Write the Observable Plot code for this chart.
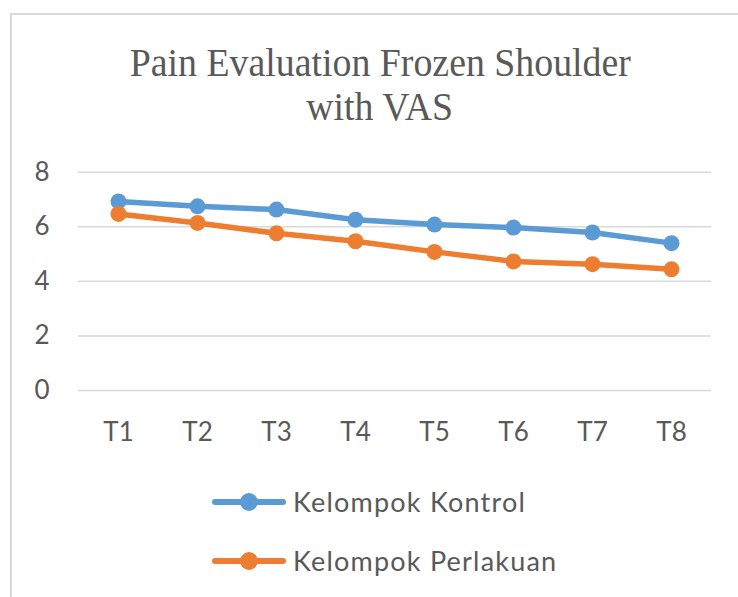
<!DOCTYPE html>
<html>
<head>
<meta charset="utf-8">
<script src="https://cdn.jsdelivr.net/npm/d3@7"></script>
<script src="https://cdn.jsdelivr.net/npm/@observablehq/plot@0.6"></script>
<style>
  html, body { margin: 0; padding: 0; background: #fff; }
  #wrap { position: relative; width: 738px; height: 597px; overflow: hidden; background: #fff; }
  #frame { position: absolute; left: 10px; top: 13px; width: 740px; height: 600px;
           border-top: 2px solid #d9d9d9; border-left: 2px solid #d9d9d9; }
  #title { position: absolute; left: 0; top: 41px; width: 760px; text-align: center;
           font-family: "Liberation Serif", "DejaVu Serif", serif; font-size: 39px;
           line-height: 44px; color: #595959; }
  #title div { display: inline-block; transform: scaleX(0.97); }
  #chart { position: absolute; left: 0; top: 140px; }
  #legend { position: absolute; left: 212px; top: 472px; }
  .row { display: flex; align-items: center; height: 59px; }
  .row span { font-family: Lato, "Open Sans", sans-serif; font-size: 27px; color: #595959;
              margin-left: 7px; letter-spacing: 1.2px; }
</style>
</head>
<body>
<div id="wrap">
  <div id="frame"></div>
  <div id="title"><div>Pain Evaluation Frozen Shoulder</div><br><div>with VAS</div></div>
  <div id="chart"></div>
  <div id="legend"></div>
</div>
<script>
const categories = ["T1", "T2", "T3", "T4", "T5", "T6", "T7", "T8"];
const kontrol = [6.93, 6.75, 6.63, 6.26, 6.08, 5.97, 5.79, 5.40];
const perlakuan = [6.47, 6.14, 5.76, 5.47, 5.08, 4.73, 4.63, 4.44];
const seriesNames = ["Kelompok Kontrol", "Kelompok Perlakuan"];
const seriesColors = ["#5b9bd5", "#ed7d31"];
const yTicks = [0, 2, 4, 6, 8];

const seriesValues = [kontrol, perlakuan];
const data = [];
seriesNames.forEach((name, s) => {
  categories.forEach((c, i) => data.push({ series: name, cat: c, value: seriesValues[s][i] }));
});

const plot = Plot.plot({
  width: 738,
  height: 320,
  marginTop: 31.7,
  marginBottom: 70,
  marginLeft: 78,
  marginRight: 27,
  style: { fontFamily: "Lato, 'Open Sans', sans-serif", fontSize: "26px", color: "#595959", background: "transparent" },
  x: { type: "point", domain: categories, padding: 0.5, label: null },
  y: { domain: [0, 8], ticks: yTicks, label: null },
  color: { domain: seriesNames, range: seriesColors },
  marks: [
    Plot.gridY(yTicks, { stroke: "#d9d9d9", strokeOpacity: 1, strokeWidth: 1.5 }),
    Plot.axisX({ tickSize: 0, tickPadding: 32, fill: "#595959" }),
    Plot.axisY(yTicks, { tickSize: 0, tickPadding: 29, fill: "#595959" }),
    Plot.line(data, { x: "cat", y: "value", z: "series", stroke: "series", strokeWidth: 5.5 }),
    Plot.dot(data, { x: "cat", y: "value", fill: "series", r: 8 })
  ]
});
document.getElementById("chart").appendChild(plot);

const legend = document.getElementById("legend");
seriesNames.forEach((name, i) => {
  const row = document.createElement("div");
  row.className = "row";
  row.innerHTML = `<svg width="74" height="22"><line x1="3" y1="11" x2="71" y2="11" stroke="${seriesColors[i]}" stroke-width="6" stroke-linecap="round"/><circle cx="37" cy="11" r="9" fill="${seriesColors[i]}"/></svg><span>${name}</span>`;
  legend.appendChild(row);
});
</script>
</body>
</html>
